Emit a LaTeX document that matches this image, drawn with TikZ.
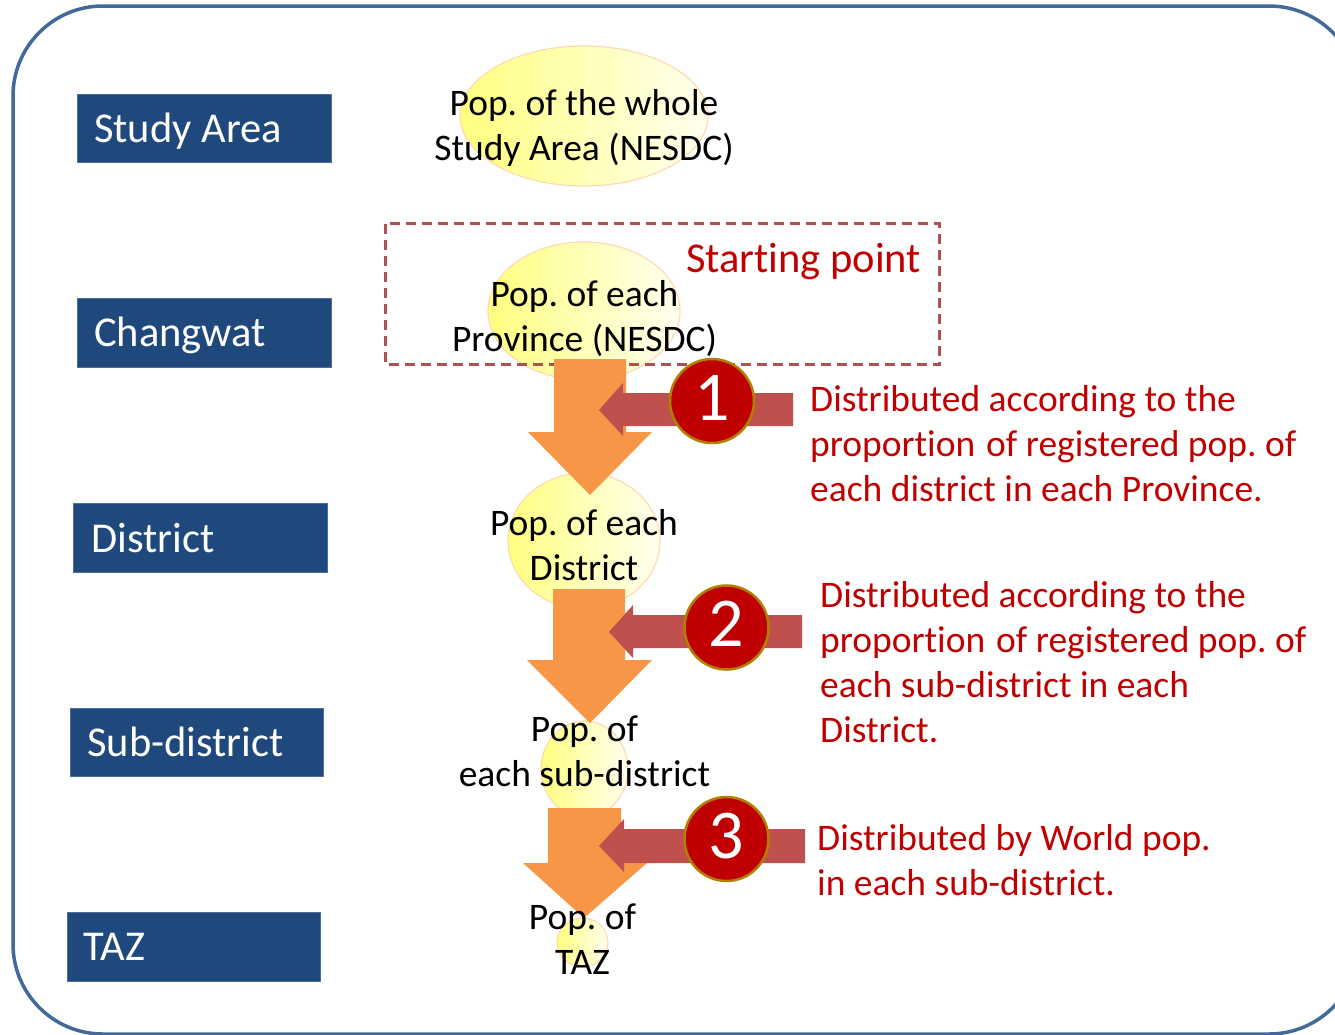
\documentclass[tikz,border=0pt]{standalone}
\usepackage{fontspec}
\setmainfont{Carlito}[Ligatures=NoCommon]
\usetikzlibrary{shapes.geometric}
\definecolor{rahmen}{RGB}{65, 105, 154}
\definecolor{ebene}{RGB}{31, 73, 125}
\definecolor{dunkelrot}{RGB}{192, 0, 0}
\definecolor{pfeilrot}{RGB}{192, 80, 77}
\definecolor{pfeilorange}{RGB}{247, 150, 70}
\definecolor{rand}{RGB}{176, 128, 0}
\definecolor{strich}{RGB}{176, 80, 80}
\tikzset{
	levelbox/.style={draw=ebene!80!white, line width=0.5pt, fill=ebene, minimum width=253.5pt, minimum height=68.5pt, inner sep=0pt},
	leveltext/.style={anchor=west, text=white, inner sep=0pt, font=\fontsize{42.5}{50}\selectfont},
	popell/.style={ellipse, draw=orange!30, line width=1.2pt, left color=yellow!50, right color=yellow!6, inner sep=0pt},
	poptext/.style={align=center, font=\fontsize{37.5}{45}\selectfont},
	redtext/.style={align=left, anchor=north west, inner sep=0pt, text=dunkelrot, font=\fontsize{37.5}{45}\selectfont},
	numcirc/.style={circle, draw=rand, line width=2.5pt, fill=dunkelrot, text=white, minimum size=84pt, inner sep=0pt, font=\fontsize{70}{74}\selectfont},
}
\frenchspacing
\begin{document}
\begin{tikzpicture}[x=1pt, y=-1pt]
	\useasboundingbox (0,0) rectangle (1335,1034);
	\clip (0,0) rectangle (1335,1034);

	\draw[rahmen, line width=3.5pt, rounded corners=90pt] (13,6) rectangle (1359,1034);

	% levels
	\node[levelbox] (study) at (204,128) {};
	\node[levelbox] (changwat) at (204,332.5) {};
	\node[levelbox] (district) at (200,537.5) {};
	\node[levelbox] (subdistrict) at (196.5,742) {};
	\node[levelbox] (taz) at (193.5,946.5) {};
	\node[leveltext] (studytext) at (94,131) {Study Area};
	\node[leveltext] (changwattext) at (94,335) {Changwat};
	\node[leveltext] (districttext) at (91,538) {District};
	\node[leveltext] (subdistricttext) at (87,742) {Sub-district};
	\node[leveltext] (taztext) at (83,947) {TAZ};

	% ellipses
	\node[popell, minimum width=248pt, minimum height=140pt] (ellstudy) at (584,116) {};
	\node[popell, minimum width=192pt, minimum height=138pt] (ellprov) at (584,311) {};
	\node[popell, minimum width=152pt, minimum height=136pt] (elldist) at (584,541) {};
	\node[popell, minimum width=87pt, minimum height=96pt] (ellsub) at (584.5,769) {};
	\node[popell, minimum width=51pt, minimum height=49pt] (elltaz) at (582.5,942.5) {};

	\draw[strich, line width=2.2pt, dash pattern=on 10pt off 6pt] (385.5,223.5) rectangle (939.5,364.5);
	\node[leveltext, text=dunkelrot] (start) at (686,262) {Starting point};

	% block arrows down
	\foreach \a/\b/\c/\d/\e/\f/\g/\h in {554/626/359/432/528/652/590/495, 553/625/589/660/527/652/590/723, 548/621/808/863/523/647/584/918}
		\fill[pfeilorange] (\a,\c) -- (\b,\c) -- (\b,\d) -- (\f,\d) -- (\g,\h) -- (\e,\d) -- (\a,\d) -- cycle;

	% block arrows to the left
	\foreach \x/\y/\b/\t/\u/\v/\w/\s in {793/393/426/623/383/436/599/410, 802/615/648/633/605/658/609/632, 805/829/863/624/819/872/599/846}
		\fill[pfeilrot] (\x,\y) -- (\t,\y) -- (\t,\u) -- (\w,\s) -- (\t,\v) -- (\t,\b) -- (\x,\b) -- cycle;

	\node[numcirc] (one) at (712,401) {\raisebox{7pt}{1}};
	\node[numcirc] (two) at (726.5,627.5) {\raisebox{7pt}{2}};
	\node[numcirc] (three) at (726.5,839) {\raisebox{7pt}{3}};

	% texts
	\node[poptext] (popstudy) at (584,128) {Pop. of the whole\\Study Area (NESDC)};
	\node[poptext] (popprov) at (584.5,319) {Pop. of each\\Province (NESDC)};
	\node[poptext] (popdist) at (584,545) {Pop. of each\\District};
	\node[poptext] (popsub) at (584.5,751) {Pop. of\\each sub-district};
	\node[poptext] (poptaz) at (582.5,939) {Pop. of\\TAZ};

	\node[redtext] (textone) at (810,385) {Distributed according to the\\proportion\hspace{2.5pt} of registered pop. of\\each district in each Province.};
	\node[redtext] (texttwo) at (820,581) {Distributed according to the\\proportion\hspace{2.5pt} of registered pop. of\\each sub-district in each\\District.};
	\node[redtext] (textthree) at (817,824) {Distributed by World pop.\\in each sub-district.};
\end{tikzpicture}
\end{document}
